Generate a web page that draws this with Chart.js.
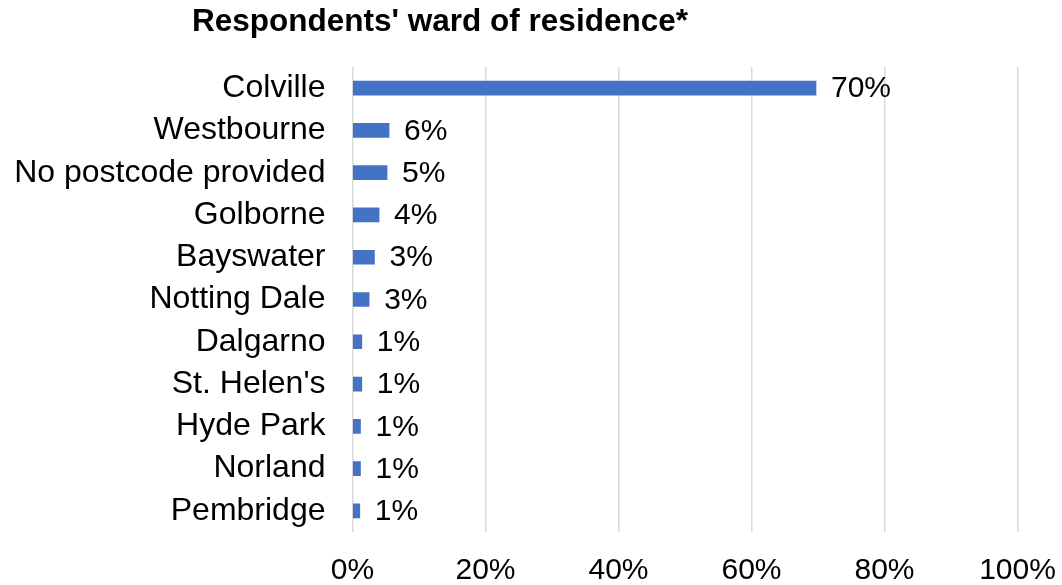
<!DOCTYPE html>
<html>
<head>
<meta charset="utf-8">
<script src="https://cdn.jsdelivr.net/npm/chart.js@4"></script>
<style>
  html, body { margin: 0; padding: 0; background: #fff; }
  #wrap { width: 1062px; height: 585px; }
</style>
</head>
<body>
<div id="wrap"><canvas id="chart" width="1062" height="585"></canvas></div>
<script>
  const titleText = "Respondents' ward of residence*";
  const wards = ['Colville', 'Westbourne', 'No postcode provided', 'Golborne', 'Bayswater',
    'Notting Dale', 'Dalgarno', "St. Helen's", 'Hyde Park', 'Norland', 'Pembridge'];
  const shares = [69.7, 5.5, 5.2, 4.0, 3.3, 2.5, 1.4, 1.4, 1.2, 1.2, 1.1];
  const axisTicks = [0, 20, 40, 60, 80, 100];

  const font = 'Arial, "Liberation Sans", sans-serif';

  // title drawn left of centre, like the original
  const titlePlugin = {
    id: 'sideTitle',
    afterDraw(chart) {
      const ctx = chart.ctx;
      ctx.save();
      ctx.font = 'bold 31.5px ' + font;
      ctx.fillStyle = '#000';
      ctx.textAlign = 'center';
      ctx.textBaseline = 'middle';
      ctx.fillText(titleText, 440, 22);
      ctx.restore();
    }
  };

  const valueLabels = {
    id: 'valueLabels',
    afterDatasetsDraw(chart) {
      const ctx = chart.ctx;
      const meta = chart.getDatasetMeta(0);
      ctx.save();
      ctx.font = '30px ' + font;
      ctx.fillStyle = '#000';
      ctx.textAlign = 'left';
      ctx.textBaseline = 'middle';
      meta.data.forEach((bar, i) => {
        ctx.fillText(Math.round(shares[i]) + '%', bar.x + 15, bar.y + 1);
      });
      ctx.restore();
    }
  };

  new Chart(document.getElementById('chart'), {
    type: 'bar',
    data: {
      labels: wards,
      datasets: [{
        data: shares,
        backgroundColor: '#4472C4',
        barThickness: 14
      }]
    },
    options: {
      indexAxis: 'y',
      responsive: false,
      animation: false,
      layout: { padding: { top: 67, left: 14, right: 44.5, bottom: 0 } },
      plugins: {
        legend: { display: false },
        tooltip: { enabled: false }
      },
      scales: {
        x: {
          min: 0,
          max: 100,
          afterBuildTicks: (scale) => { scale.ticks = axisTicks.map(v => ({ value: v })); },
          afterFit: (scale) => {
            scale.height = 53;
            scale.paddingRight = 0;
            scale.paddingLeft = 0;
          },
          grid: { color: '#D9D9D9', lineWidth: 1.5, drawTicks: false },
          border: { display: false },
          ticks: {
            padding: 22,
            color: '#000',
            font: { family: font, size: 30, lineHeight: 1.1 },
            callback: (v) => v + '%'
          }
        },
        y: {
          afterFit: (scale) => { scale.width = 338.5; },
          grid: { display: false, drawTicks: false },
          border: { display: false },
          ticks: {
            padding: 27,
            color: '#000',
            font: { family: font, size: 32 }
          }
        }
      }
    },
    plugins: [titlePlugin, valueLabels]
  });
</script>
</body>
</html>
